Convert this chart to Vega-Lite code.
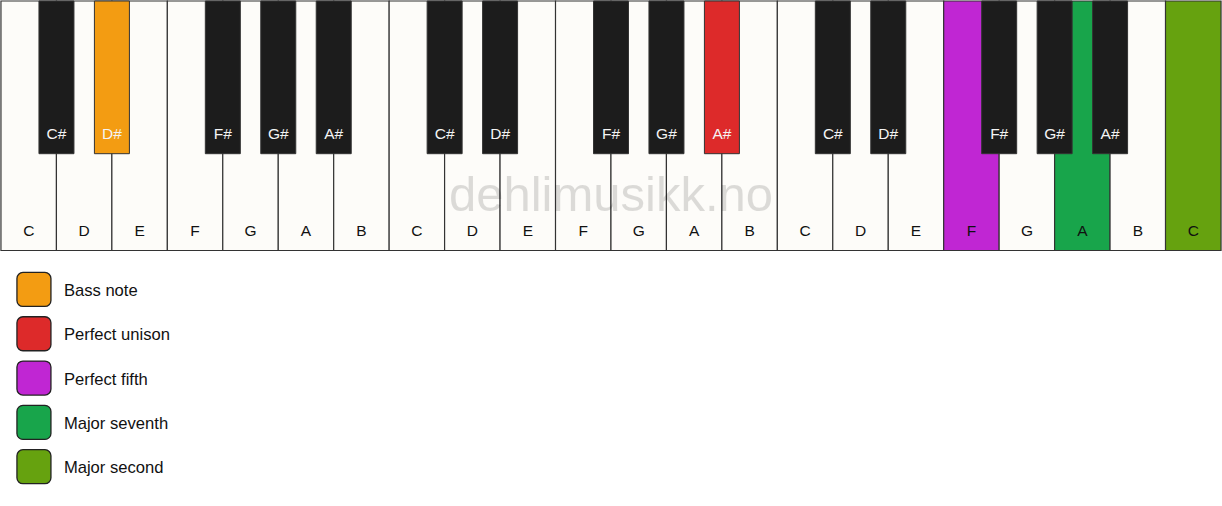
{
  "$schema": "https://vega.github.io/schema/vega-lite/v6.json",
  "width": 1222,
  "height": 506,
  "autosize": {"type": "fit", "contains": "padding"},
  "padding": 0,
  "background": "#ffffff",
  "config": {"view": {"stroke": null}, "font": "Liberation Sans"},
  "datasets": {
    "whites": [
      {"pos": 0, "note": "C", "fill": "white"},
      {"pos": 1, "note": "D", "fill": "white"},
      {"pos": 2, "note": "E", "fill": "white"},
      {"pos": 3, "note": "F", "fill": "white"},
      {"pos": 4, "note": "G", "fill": "white"},
      {"pos": 5, "note": "A", "fill": "white"},
      {"pos": 6, "note": "B", "fill": "white"},
      {"pos": 7, "note": "C", "fill": "white"},
      {"pos": 8, "note": "D", "fill": "white"},
      {"pos": 9, "note": "E", "fill": "white"},
      {"pos": 10, "note": "F", "fill": "white"},
      {"pos": 11, "note": "G", "fill": "white"},
      {"pos": 12, "note": "A", "fill": "white"},
      {"pos": 13, "note": "B", "fill": "white"},
      {"pos": 14, "note": "C", "fill": "white"},
      {"pos": 15, "note": "D", "fill": "white"},
      {"pos": 16, "note": "E", "fill": "white"},
      {"pos": 17, "note": "F", "fill": "Perfect fifth"},
      {"pos": 18, "note": "G", "fill": "white"},
      {"pos": 19, "note": "A", "fill": "Major seventh"},
      {"pos": 20, "note": "B", "fill": "white"},
      {"pos": 21, "note": "C", "fill": "Major second"}
    ],
    "blacks": [
      {"pos": 0.5, "note": "C#", "fill": "black"},
      {"pos": 1.5, "note": "D#", "fill": "Bass note"},
      {"pos": 3.5, "note": "F#", "fill": "black"},
      {"pos": 4.5, "note": "G#", "fill": "black"},
      {"pos": 5.5, "note": "A#", "fill": "black"},
      {"pos": 7.5, "note": "C#", "fill": "black"},
      {"pos": 8.5, "note": "D#", "fill": "black"},
      {"pos": 10.5, "note": "F#", "fill": "black"},
      {"pos": 11.5, "note": "G#", "fill": "black"},
      {"pos": 12.5, "note": "A#", "fill": "Perfect unison"},
      {"pos": 14.5, "note": "C#", "fill": "black"},
      {"pos": 15.5, "note": "D#", "fill": "black"},
      {"pos": 17.5, "note": "F#", "fill": "black"},
      {"pos": 18.5, "note": "G#", "fill": "black"},
      {"pos": 19.5, "note": "A#", "fill": "black"}
    ],
    "legend": [
      {"row": 0, "label": "Bass note"},
      {"row": 1, "label": "Perfect unison"},
      {"row": 2, "label": "Perfect fifth"},
      {"row": 3, "label": "Major seventh"},
      {"row": 4, "label": "Major second"}
    ],
    "mark": [{"text": "dehlimusikk.no"}]
  },
  "layer": [
    {
      "layer": [
        {
          "data": {"name": "whites"},
          "mark": {"type": "rect", "width": 55.545, "stroke": "#333333", "strokeWidth": 1.2},
          "encoding": {
            "x": {"field": "pos", "type": "quantitative", "axis": null, "scale": {"domain": [-0.5, 21.5], "nice": false, "zero": false}},
            "y": {"datum": 0, "type": "quantitative", "axis": null, "scale": {"domain": [0, 506], "nice": false, "zero": false, "reverse": true}},
            "y2": {"datum": 250},
            "color": {"field": "fill", "type": "nominal", "legend": null,
              "scale": {
                "domain": ["white", "black", "Bass note", "Perfect unison", "Perfect fifth", "Major seventh", "Major second"],
                "range": ["#fdfcf9", "#1c1c1c", "#f39c12", "#dd2a2a", "#c026d3", "#18a54b", "#66a20f"]
              }}
          }
        },
        {
          "data": {"name": "whites"},
          "mark": {"type": "text", "fontSize": 15.5, "baseline": "middle", "align": "center", "color": "#111111"},
          "encoding": {
            "x": {"field": "pos", "type": "quantitative", "axis": null, "scale": {"domain": [-0.5, 21.5], "nice": false, "zero": false}},
            "y": {"datum": 230.5, "type": "quantitative", "axis": null, "scale": {"domain": [0, 506], "nice": false, "zero": false, "reverse": true}},
            "text": {"field": "note"}
          }
        },
        {
          "data": {"name": "blacks"},
          "mark": {"type": "rect", "width": 35, "stroke": "#333333", "strokeWidth": 1},
          "encoding": {
            "x": {"field": "pos", "type": "quantitative", "axis": null, "scale": {"domain": [-0.5, 21.5], "nice": false, "zero": false}},
            "y": {"datum": 0, "type": "quantitative", "axis": null, "scale": {"domain": [0, 506], "nice": false, "zero": false, "reverse": true}},
            "y2": {"datum": 153},
            "color": {"field": "fill", "type": "nominal", "legend": null}
          }
        },
        {
          "data": {"name": "blacks"},
          "mark": {"type": "text", "fontSize": 15.5, "baseline": "middle", "align": "center", "color": "#f4f4f4"},
          "encoding": {
            "x": {"field": "pos", "type": "quantitative", "axis": null, "scale": {"domain": [-0.5, 21.5], "nice": false, "zero": false}},
            "y": {"datum": 133, "type": "quantitative", "axis": null, "scale": {"domain": [0, 506], "nice": false, "zero": false, "reverse": true}},
            "text": {"field": "note"}
          }
        },
        {
          "data": {"name": "mark"},
          "mark": {"type": "text", "fontSize": 49, "baseline": "alphabetic", "align": "center", "color": "#000000", "opacity": 0.13},
          "encoding": {
            "x": {"datum": 10.5, "type": "quantitative", "axis": null, "scale": {"domain": [-0.5, 21.5], "nice": false, "zero": false}},
            "y": {"datum": 210, "type": "quantitative", "axis": null, "scale": {"domain": [0, 506], "nice": false, "zero": false, "reverse": true}},
            "text": {"field": "text"}
          }
        }
      ]
    },
    {
      "data": {"name": "legend"},
      "layer": [
        {
          "mark": {"type": "rect", "width": 34, "height": 34, "cornerRadius": 6, "stroke": "#222222", "strokeWidth": 1.3},
          "encoding": {
            "x": {"datum": 0.094, "type": "quantitative", "axis": null, "scale": {"domain": [-0.5, 21.5], "nice": false, "zero": false}},
            "y": {"field": "row", "type": "quantitative", "axis": null, "scale": {"domain": [-6.509, 4.887], "nice": false, "zero": false, "reverse": true}},
            "color": {"field": "label", "type": "nominal", "legend": null}
          }
        },
        {
          "mark": {"type": "text", "fontSize": 16.6, "baseline": "middle", "align": "left", "dx": -1, "dy": 1.5, "color": "#111111"},
          "encoding": {
            "x": {"datum": 0.652, "type": "quantitative", "axis": null, "scale": {"domain": [-0.5, 21.5], "nice": false, "zero": false}},
            "y": {"field": "row", "type": "quantitative", "axis": null, "scale": {"domain": [-6.509, 4.887], "nice": false, "zero": false, "reverse": true}},
            "text": {"field": "label"}
          }
        }
      ]
    }
  ],
  "resolve": {"scale": {"y": "independent"}}
}
